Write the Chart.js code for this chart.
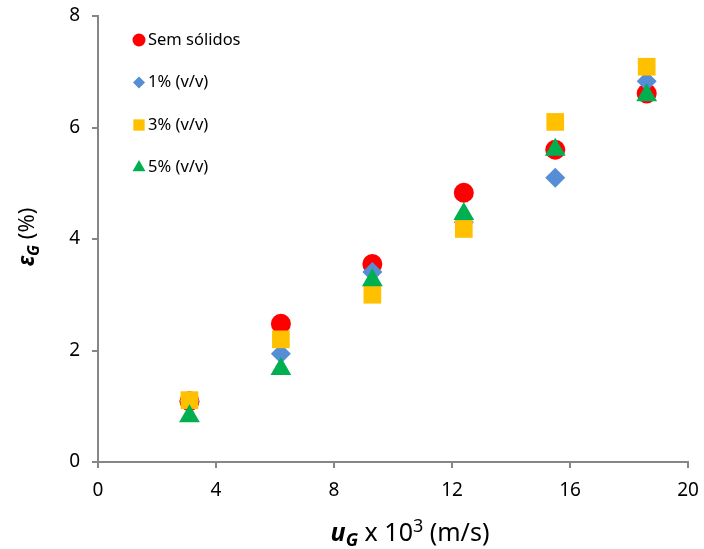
<!DOCTYPE html>
<html>
<head>
<meta charset="utf-8">
<script src="https://cdn.jsdelivr.net/npm/chart.js@4"></script>
<style>
  html, body { margin: 0; padding: 0; background: #fff; }
  #wrap { width: 704px; height: 549px; }
</style>
</head>
<body>
<div id="wrap"><canvas id="gasHoldup"></canvas></div>
<script>
// superficial gas velocity (x 10^3 m/s)
const ugValues = [3.1, 6.2, 9.3, 12.4, 15.5, 18.6];

// gas holdup (%) per solids loading
const semSolidos = [1.09, 2.48, 3.55, 4.83, 5.60, 6.61];
const solids1 = [1.10, 1.94, 3.41, 4.30, 5.10, 6.83];
const solids3 = [1.11, 2.20, 3.00, 4.18, 6.10, 7.09];
const solids5 = [0.82, 1.67, 3.26, 4.45, 5.60, 6.58];

const seriesNames = ["Sem sólidos", "1% (v/v)", "3% (v/v)", "5% (v/v)"];
const xTicks = [0, 4, 8, 12, 16, 20];
const yTicks = [0, 2, 4, 6, 8];

const FONT = "'Noto Sans', sans-serif";
const AXIS_GREY = "#868686";

function toPoints(ys) {
  return ugValues.map((x, i) => ({ x: x, y: ys[i] }));
}

const styles = [
  { color: "#FF0000", pointStyle: "circle", radius: 10, legendR: 6.5 },
  { color: "#558ED5", pointStyle: "rectRot", radius: 10, legendR: 6 },
  { color: "#FFC000", pointStyle: "rect", radius: 12.5, legendR: 8 },
  { color: "#00B050", pointStyle: "triangle", radius: 12, legendR: 7.5 },
];

const allSeries = [semSolidos, solids1, solids3, solids5];

const datasets = allSeries.map((ys, i) => ({
  label: seriesNames[i],
  data: toPoints(ys),
  backgroundColor: styles[i].color,
  borderColor: styles[i].color,
  borderWidth: 0,
  pointStyle: styles[i].pointStyle,
  pointRadius: styles[i].radius,
  pointHoverRadius: styles[i].radius,
  order: 4 - i, // later series drawn on top
}));

// legend drawn inside the plot, top-left
const insideLegend = {
  id: "insideLegend",
  afterDraw(chart) {
    const ctx = chart.ctx;
    const area = chart.chartArea;
    ctx.save();
    datasets.forEach((ds, i) => {
      const y = area.top + 24 + i * 42.5;
      const x = area.left + 41;
      ctx.fillStyle = styles[i].color;
      Chart.helpers.drawPoint(ctx, {
        pointStyle: styles[i].pointStyle,
        radius: styles[i].legendR,
        rotation: 0,
        borderWidth: 0,
      }, x, y);
      ctx.fillStyle = "#000";
      ctx.font = "16.5px " + FONT;
      ctx.textBaseline = "middle";
      ctx.fillText(seriesNames[i], x + 9, y);
    });
    ctx.restore();
  },
};

// axis titles with sub/superscripts
function drawRuns(ctx, runs, x, y, align) {
  let total = 0;
  runs.forEach(r => { ctx.font = r.font; total += ctx.measureText(r.text).width; });
  let cx = align === "center" ? x - total / 2 : x;
  runs.forEach(r => {
    ctx.font = r.font;
    ctx.fillText(r.text, cx, y + (r.dy || 0));
    cx += ctx.measureText(r.text).width;
  });
}

const axisTitles = {
  id: "axisTitles",
  afterDraw(chart) {
    const ctx = chart.ctx;
    ctx.save();
    ctx.fillStyle = "#000";
    ctx.textBaseline = "alphabetic";
    const big = "25px " + FONT;
    const bi = "italic bold 25px " + FONT;
    const biSub = "italic bold 18px " + FONT;
    const sup = "18px " + FONT;
    drawRuns(ctx, [
      { text: "u", font: bi },
      { text: "G", font: biSub, dy: 5 },
      { text: " x 10", font: big },
      { text: "3", font: sup, dy: -9 },
      { text: " (m/s)", font: big },
    ], 410, 541, "center");

    ctx.translate(34, 237);
    ctx.rotate(-Math.PI / 2);
    drawRuns(ctx, [
      { text: "ε", font: "italic bold 23px " + FONT },
      { text: "G", font: "italic bold 16px " + FONT, dy: 5 },
      { text: " (%)", font: "22px " + FONT },
    ], 0, 0, "center");
    ctx.restore();
  },
};

new Chart(document.getElementById("gasHoldup").getContext("2d"), {
  type: "scatter",
  data: { datasets: datasets },
  options: {
    responsive: true,
    maintainAspectRatio: false,
    animation: false,
    layout: { padding: { left: 0, top: 16, right: 16, bottom: 0 } },
    plugins: {
      legend: { display: false },
      tooltip: { enabled: false },
    },
    scales: {
      x: {
        type: "linear",
        min: 0,
        max: 20,
        afterBuildTicks: (scale) => { scale.ticks = xTicks.map(v => ({ value: v })); },
        afterFit: (scale) => {
          scale.height = 87;
          scale.paddingLeft = 0;
          scale.paddingRight = 0;
        },
        ticks: { color: "#000", font: { family: FONT, size: 19 }, padding: 11 },
        grid: { drawOnChartArea: false, drawTicks: true, tickLength: 6, color: AXIS_GREY, lineWidth: 2 },
        border: { color: AXIS_GREY, width: 2 },
      },
      y: {
        type: "linear",
        min: 0,
        max: 8,
        afterBuildTicks: (scale) => { scale.ticks = yTicks.map(v => ({ value: v })); },
        afterFit: (scale) => {
          scale.width = 98;
          scale.paddingTop = 0;
          scale.paddingBottom = 0;
        },
        ticks: { color: "#000", font: { family: FONT, size: 19 }, padding: 12 },
        grid: { drawOnChartArea: false, drawTicks: true, tickLength: 6, color: AXIS_GREY, lineWidth: 2 },
        border: { color: AXIS_GREY, width: 2 },
      },
    },
  },
  plugins: [insideLegend, axisTitles],
});
</script>
</body>
</html>
